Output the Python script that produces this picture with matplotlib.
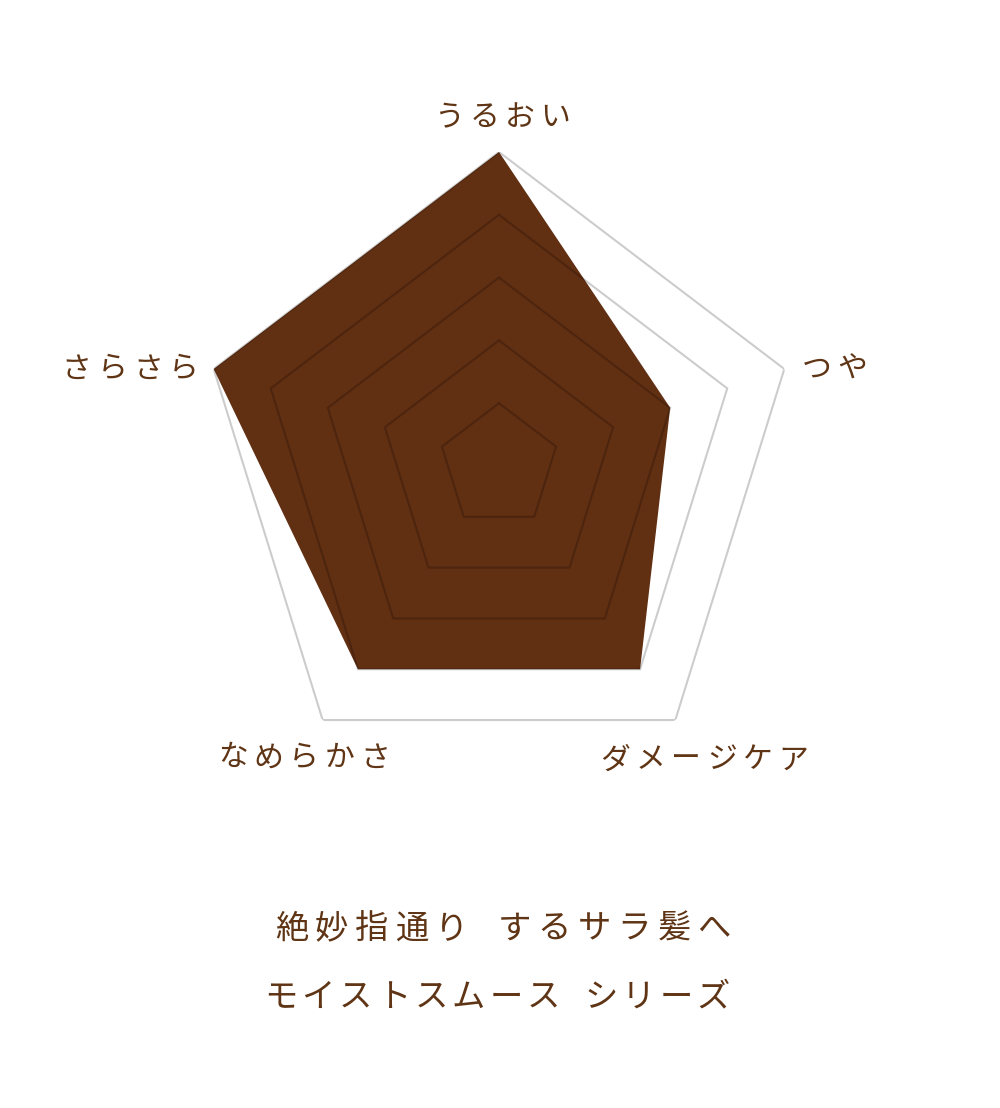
import numpy as np
import matplotlib
matplotlib.use("Agg")
import matplotlib.pyplot as plt

plt.rcParams['font.family'] = ['Noto Sans CJK JP', 'DejaVu Sans']

# ---- data ----
categories = ['うるおい', 'つや', 'ダメージケア', 'なめらかさ', 'さらさら']
values = [5, 3, 4, 4, 5]
levels = [1, 2, 3, 4, 5]
title_lines = ['絶妙指通り するサラ髪へ', 'モイストスムース シリーズ']

# ---- style ----
FILL = '#612f12'
TEXT = '#5f3515'
W, H = 1000, 1108

fig = plt.figure(figsize=(W / 100, H / 100), dpi=100)
fig.patch.set_facecolor('white')

# polar axes placed so the outer ring spans the reference area
cx, cy, rx, ry = 499, 466, 300, 314
ax = fig.add_axes([(cx - rx) / W, (H - cy - ry) / H, 2 * rx / W, 2 * ry / H],
                  projection='polar')
ax.set_aspect('auto')
ax.set_theta_offset(np.pi / 2)
ax.set_theta_direction(-1)
ax.set_ylim(0, max(levels))
ax.grid(False)
ax.spines['polar'].set_visible(False)
ax.set_xticks([])
ax.set_yticks([])
ax.patch.set_visible(False)

n = len(categories)
theta = np.linspace(0, 2 * np.pi, n, endpoint=False)
theta_c = np.append(theta, theta[0])

vals_c = np.append(values, values[0])
ax.fill(theta_c, vals_c, color=FILL, lw=0, zorder=2)

for lv in levels:
    ax.plot(theta_c, [lv] * (n + 1), color=(0, 0, 0, 0.2), lw=1.5, zorder=3,
            solid_joinstyle='miter')


def spaced(text, x, y, pitch, size, gap):
    """Draw text with its glyphs centred at pixel (x, y), with letter spacing."""
    xs = []
    cur = 0.0
    chars = []
    for ch in text:
        if ch == ' ':
            cur += gap
            continue
        chars.append(ch)
        xs.append(cur)
        cur += pitch
    xs = np.array(xs)
    xs = xs - (xs[0] + xs[-1]) / 2 + x
    em = size * 100 / 72
    base = y + 0.38 * em
    for ch, xx in zip(chars, xs):
        fig.text(xx / W, 1 - base / H, ch, ha='center', va='baseline',
                 fontsize=size, color=TEXT)


# axis labels (pixel centres)
label_pos = [(502, 115), (834, 366), (704, 757), (304, 755), (130, 366)]
for lab, (lx, ly) in zip(categories, label_pos):
    spaced(lab, lx, ly, 35.5, 21.5, 0)

# bottom titles
spaced(title_lines[0], 503, 926, 40.0, 24, 22.5)
spaced(title_lines[1], 497, 994, 37.6, 24, 19.4)

fig.savefig('out.png', dpi=100, facecolor='white')
